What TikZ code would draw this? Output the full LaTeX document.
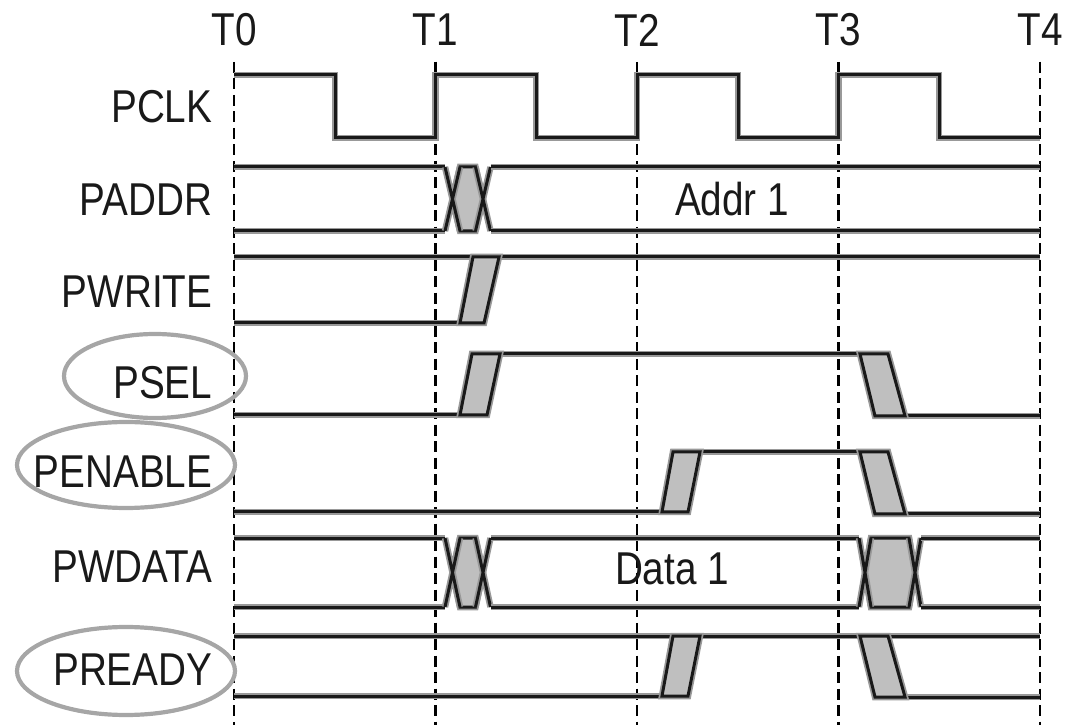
\documentclass[tikz,border=0pt]{standalone}
\usepackage{fontspec}
\newfontfamily\wavefont[FakeStretch=0.84]{Liberation Sans}
\usetikzlibrary{calc}

% double cross of a bus: #1 left cross, #2 right cross, #3 half width, #4 top, #5 bottom
\newcommand\busx[5]{%
  \draw[slope] ({#1+#3},#4) -- ({#2-#3},#4) -- (#2,{(#4+#5)/2}) -- ({#2-#3},#5)
    -- ({#1+#3},#5) -- (#1,{(#4+#5)/2}) -- cycle;
  \draw[wave] ({#1-#3},#4) -- ({#1+#3},#5) ({#1-#3},#5) -- ({#1+#3},#4)
              ({#2-#3},#4) -- ({#2+#3},#5) ({#2-#3},#5) -- ({#2+#3},#4);
}

\begin{document}
\begin{tikzpicture}[
  wave/.style={draw=black!90, line width=0.03cm,
               preaction={draw=black!40, line width=0.065cm}},
  slope/.style={wave, fill=black!25},
  timeline/.style={draw=black, line width=0.025cm, dash pattern=on 0.11cm off 0.055cm},
  ring/.style={draw=black!35, line width=0.042cm},
  sig/.style={font={\wavefont\fontsize{13.1}{15}\selectfont}, text=black!90, inner sep=0pt}
]
  \useasboundingbox (0,0) rectangle (10.68,-7.25);

  % ── time marks ──
  \foreach \i/\x in {0/2.34, 1/4.355, 2/6.37, 3/8.385, 4/10.40} {
    \node[sig] (t\i) at (\x,-0.30) {T\i};
    \draw[timeline] (t\i.south) ++(0,-0.15) -- (\x,-7.25);
  }

  % ── PCLK ──
  \draw[wave] (2.34,-0.75) -| (3.35,-1.38) -| (4.355,-0.75) -| (5.36,-1.38)
    -| (6.37,-0.75) -| (7.38,-1.38) -| (8.385,-0.75) -| (9.39,-1.38) -- (10.40,-1.38);

  % ── PADDR ──
  \draw[wave] (2.34,-1.67) -- (4.45,-1.67) (2.34,-2.31) -- (4.45,-2.31);
  \busx{4.525}{4.83}{0.075}{-1.67}{-2.31}
  \draw[wave] (4.905,-1.67) -- (10.40,-1.67) (4.905,-2.31) -- (10.40,-2.31);
  \node[sig] (addr) at (7.32,-1.99) {Addr 1};

  % ── PWRITE ──
  \draw[wave] (2.34,-2.57) -- (10.40,-2.57) (2.34,-3.23) -- (4.60,-3.23);
  \draw[slope] (4.60,-3.23) -- (4.84,-3.23) -- (4.99,-2.57) -- (4.73,-2.57) -- cycle;

  % ── PSEL ──
  \draw[wave] (2.34,-4.15) -- (4.60,-4.15) (4.72,-3.54) -- (8.88,-3.54)
    (8.75,-4.16) -- (10.40,-4.16);
  \draw[slope] (4.60,-4.15) -- (4.87,-4.15) -- (5.00,-3.54) -- (4.72,-3.54) -- cycle;
  \draw[slope] (8.60,-3.54) -- (8.88,-3.54) -- (9.05,-4.16) -- (8.75,-4.16) -- cycle;

  % ── PENABLE ──
  \draw[wave] (2.34,-5.12) -- (6.62,-5.12) (6.73,-4.52) -- (8.88,-4.52)
    (8.75,-5.14) -- (10.40,-5.14);
  \draw[slope] (6.62,-5.12) -- (6.88,-5.12) -- (7.00,-4.52) -- (6.73,-4.52) -- cycle;
  \draw[slope] (8.60,-4.52) -- (8.88,-4.52) -- (9.05,-5.14) -- (8.75,-5.14) -- cycle;

  % ── PWDATA ──
  \draw[wave] (2.34,-5.38) -- (4.45,-5.38) (2.34,-6.07) -- (4.45,-6.07);
  \busx{4.525}{4.83}{0.075}{-5.38}{-6.07}
  \draw[wave] (4.905,-5.38) -- (8.59,-5.38) (4.905,-6.07) -- (8.59,-6.07);
  \busx{8.65}{9.15}{0.06}{-5.38}{-6.07}
  \draw[wave] (9.21,-5.38) -- (10.40,-5.38) (9.21,-6.07) -- (10.40,-6.07);
  \node[sig] (data) at (6.72,-5.69) {Data 1};

  % ── PREADY ──
  \draw[wave] (2.34,-6.36) -- (10.40,-6.36) (2.34,-6.96) -- (6.62,-6.96)
    (8.75,-6.97) -- (10.40,-6.97);
  \draw[slope] (6.62,-6.96) -- (6.88,-6.96) -- (7.00,-6.36) -- (6.73,-6.36) -- cycle;
  \draw[slope] (8.60,-6.36) -- (8.88,-6.36) -- (9.05,-6.97) -- (8.75,-6.97) -- cycle;

  % ── signal names ──
  \node[sig, anchor=east] (pclk)    at (2.13,-1.07) {PCLK};
  \node[sig, anchor=east] (paddr)   at (2.13,-2.00) {PADDR};
  \node[sig, anchor=east] (pwrite)  at (2.13,-2.92) {PWRITE};
  \node[sig, anchor=east] (psel)    at (2.13,-3.83) {PSEL};
  \node[sig, anchor=east] (penable) at (2.13,-4.72) {PENABLE};
  \node[sig, anchor=east] (pwdata)  at (2.13,-5.67) {PWDATA};
  \node[sig, anchor=east] (pready)  at (2.13,-6.70) {PREADY};

  % ── marked signals ──
  \draw[ring] (1.55,-3.76) ellipse [x radius=0.91, y radius=0.42];
  \draw[ring] (1.26,-4.65) ellipse [x radius=1.09, y radius=0.43];
  \draw[ring] (1.26,-6.71) ellipse [x radius=1.09, y radius=0.44];
\end{tikzpicture}
\end{document}
